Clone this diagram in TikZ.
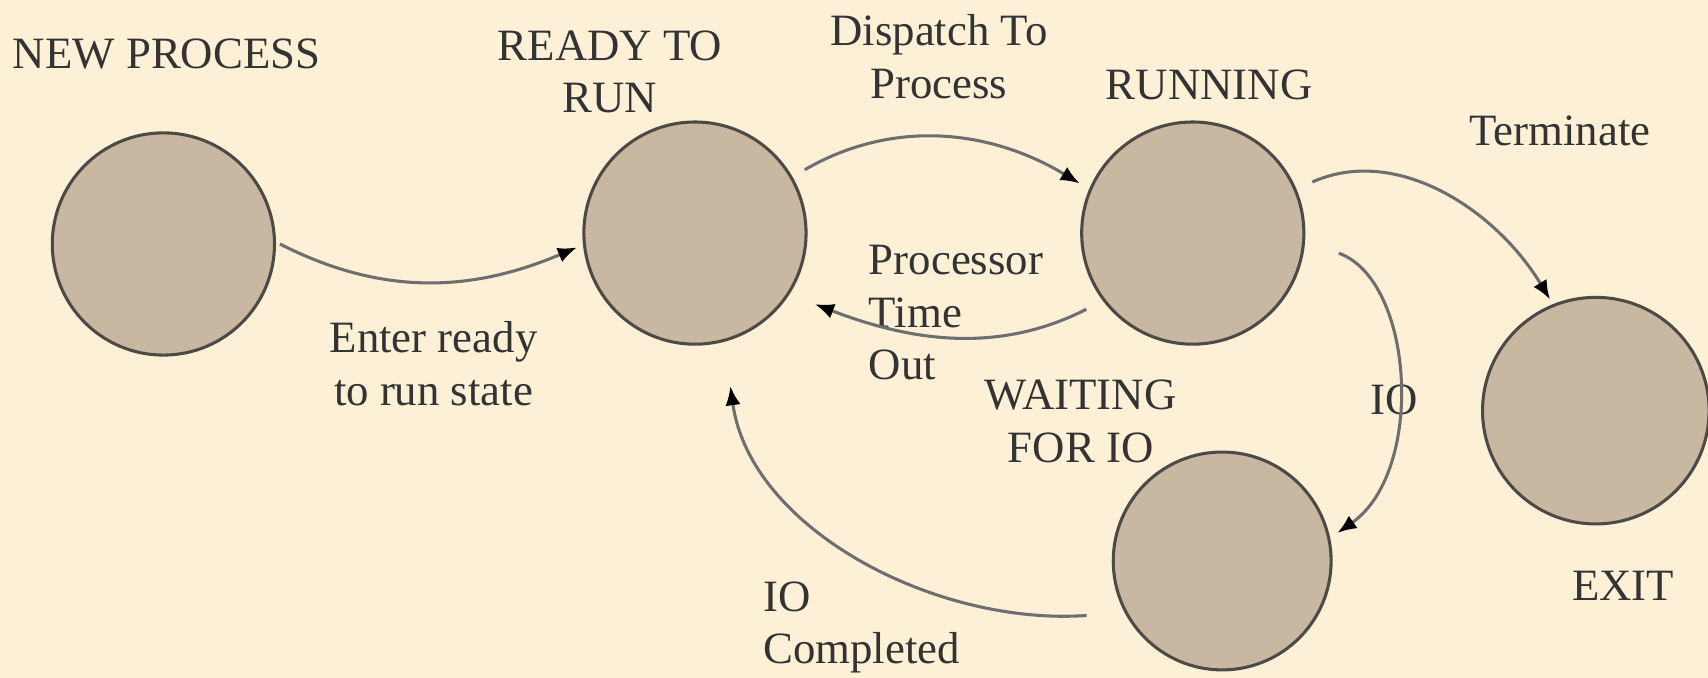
\documentclass[tikz,border=0pt]{standalone}
\usepackage{fontspec}
\setmainfont{Liberation Serif}
\usetikzlibrary{arrows.meta,positioning}
\definecolor{paper}{HTML}{FCF0D7}
\definecolor{stone}{HTML}{C8B8A2}
\definecolor{rim}{HTML}{4D4A46}
\definecolor{ink}{HTML}{333333}
\definecolor{wire}{HTML}{6E6E6E}
\tikzstyle{state} = [circle, draw=rim, line width=0.8pt, fill=stone,
    minimum size=2.04cm, inner sep=0pt]
\tikzstyle{caption} = [text=ink, font=\fontsize{11.7}{13.8}\selectfont,
    align=center, inner sep=0pt]
\tikzstyle{flow} = [draw=wire, line width=0.8pt,
    -{Latex[length=5pt,width=4pt,black]}]

\begin{document}
\begin{tikzpicture}
    \fill[paper] (0,0) rectangle (15.68,6.22);
    \useasboundingbox (0,0) rectangle (15.68,6.22);

    \node[state] (new) at (1.50,3.98) {};
    \node[state] (ready) at (6.38,4.08) {};
    \node[state] (running) at (10.95,4.08) {};
    \node[state, minimum size=2.08cm] (exit) at (14.65,2.45) {};
    \node[state, minimum size=2.0cm] (waiting) at (11.22,1.07) {};

    \node[caption] (lblNew) at (1.53,5.72) {NEW PROCESS};
    \node[caption] (lblReady) at (5.60,5.56) {READY TO\\RUN};
    \node[caption] (lblRunning) at (11.10,5.44) {RUNNING};
    \node[caption] (lblWaiting) at (9.92,2.35) {WAITING\\FOR IO};
    \node[caption] (lblExit) at (14.90,0.84) {EXIT};

    \node[caption] (lblEnter) at (3.98,2.88) {Enter ready\\to run state};
    \node[caption] (lblDispatch) at (8.62,5.70) {Dispatch To\\Process};
    \node[caption, align=left, anchor=west] (lblTimeout) at (7.97,3.35) {Processor\\Time\\Out};
    \node[caption] (lblTerminate) at (14.32,5.02) {Terminate};
    \node[caption] (lblIo) at (12.80,2.55) {IO};
    \node[caption, align=left, anchor=west] (lblDone) at (7.00,0.46) {IO\\Completed};

    \path[flow, shorten <=0.04cm, shorten >=0.06cm]
        (new.1) to[out=-27, in=-157] (ready.186);
    \path[flow, shorten <=0.13cm, shorten >=0.10cm]
        (ready.30) to[out=30, in=149] (running.157);
    \path[flow, shorten <=0.17cm, shorten >=0.25cm]
        (running.217) to[out=207, in=-21] (ready.-33);
    \path[flow, shorten <=0.16cm, shorten >=0.05cm]
        (running.23) to[out=24, in=121] (exit.112);
    \path[flow, shorten <=0.33cm, shorten >=0.08cm]
        (running.-4) to[out=-20, in=35] (waiting.12);
    \path[flow, shorten <=0.35cm, shorten >=0.41cm]
        (waiting.208) to[out=184, in=-82] (ready.-75);
\end{tikzpicture}
\end{document}
